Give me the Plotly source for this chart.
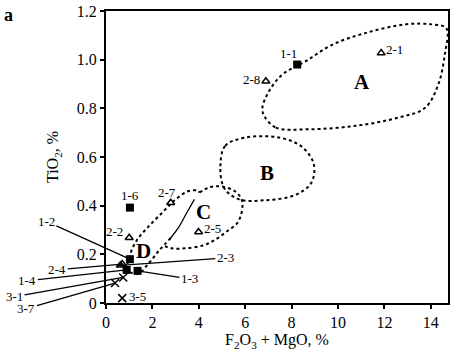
import plotly.graph_objects as go

# ---- data ----
sq_names = ["1-1", "1-2", "1-3", "1-4", "1-6"]
sq_x = [8.24, 1.03, 1.36, 0.89, 1.03]
sq_y = [0.98, 0.18, 0.132, 0.136, 0.392]

tri_names = ["2-1", "2-2", "2-3", "2-4", "2-5", "2-7", "2-8"]
tri_x = [11.86, 1.0, 0.62, 0.7, 3.99, 2.79, 6.89]
tri_y = [1.027, 0.268, 0.155, 0.16, 0.292, 0.412, 0.911]

x_names = ["3-1", "3-5", "3-7"]
x_x = [0.74, 0.70, 0.39]
x_y = [0.105, 0.02, 0.082]

# field outlines (control points)
A_x = [6.82, 7.32, 8.74, 10.75, 12.6, 13.75, 14.32, 14.6, 14.67, 14.03, 12.89, 11.17, 9.74, 8.6, 7.6, 7.03, 6.74, 6.82]
A_y = [0.769, 0.721, 0.714, 0.728, 0.762, 0.802, 0.898, 1.02, 1.129, 1.145, 1.145, 1.109, 1.061, 0.993, 0.939, 0.871, 0.802, 0.769]
B_x = [4.93, 5.14, 5.96, 7.46, 8.44, 8.96, 8.83, 8.1, 6.82, 5.74, 5.1, 4.93]
B_y = [0.565, 0.646, 0.679, 0.68, 0.642, 0.569, 0.491, 0.442, 0.422, 0.426, 0.471, 0.565]
C_x = [4.03, 4.46, 4.97, 5.57, 5.87, 5.7, 5.19, 4.67, 4.2, 3.46, 2.83, 2.45]
C_y = [0.454, 0.475, 0.479, 0.458, 0.418, 0.334, 0.293, 0.258, 0.237, 0.225, 0.225, 0.237]
D_x = [2.79, 2.31, 1.89, 1.37, 0.94, 1.03, 1.33, 1.80, 2.40, 2.96, 3.51, 3.94, 4.03]
D_y = [0.267, 0.218, 0.169, 0.120, 0.136, 0.197, 0.258, 0.311, 0.369, 0.422, 0.458, 0.462, 0.454]
CD_x = [3.81, 3.47, 3.13, 2.74]
CD_y = [0.426, 0.369, 0.311, 0.262]

field_names = ["A", "B", "C", "D"]
field_x = [11.02, 6.94, 4.2, 1.63]
field_y = [0.907, 0.536, 0.373, 0.213]

# labels with leader lines: name -> tail position (data units)
lead_names = ["1-2", "2-4", "1-4", "3-1", "3-7", "2-3", "1-3"]
lead_tx = [-2.57, -2.1, -3.39, -3.94, -3.43, 5.14, 3.6]
lead_ty = [0.336, 0.136, 0.091, 0.026, -0.023, 0.185, 0.099]

# plain labels next to points: name -> pixel shifts
plain_shift = {"1-1": (-9, 11), "2-1": (13, 4), "2-8": (-14, 2), "1-6": (0, 12),
               "2-7": (-4, 10), "2-5": (14, 3), "2-2": (-15, 6), "3-5": (15, 2)}

serif = "Liberation Serif"
fig = go.Figure()

dotted = dict(color="black", width=2, dash="3px,3px")
for fx, fy in [(A_x, A_y), (B_x, B_y), (C_x, C_y), (D_x, D_y)]:
    fig.add_trace(go.Scatter(x=fx, y=fy, mode="lines", line=dict(shape="spline", **dotted),
                             hoverinfo="skip", showlegend=False))
fig.add_trace(go.Scatter(x=CD_x, y=CD_y, mode="lines", line=dict(shape="spline", color="black", width=1.3),
                         hoverinfo="skip", showlegend=False))

fig.add_trace(go.Scatter(x=sq_x, y=sq_y, mode="markers", text=sq_names,
                         marker=dict(symbol="square", size=8, color="black"), showlegend=False))
fig.add_trace(go.Scatter(x=tri_x, y=tri_y, mode="markers", text=tri_names,
                         marker=dict(symbol="triangle-up-open", size=7, color="black", line=dict(width=1.5)),
                         showlegend=False))
fig.add_trace(go.Scatter(x=x_x, y=x_y, mode="markers", text=x_names,
                         marker=dict(symbol="x-thin-open", size=8, color="black", line=dict(width=1.5)),
                         showlegend=False))

allpts = {}
for n, a, b in zip(sq_names + tri_names + x_names, sq_x + tri_x + x_x, sq_y + tri_y + x_y):
    allpts[n] = (a, b)

anns = []
for n, tx, ty in zip(lead_names, lead_tx, lead_ty):
    px, py = allpts[n]
    anns.append(dict(x=px, y=py, ax=tx, ay=ty, xref="x", yref="y", axref="x", ayref="y",
                     text=n, showarrow=True, arrowhead=0, arrowwidth=1.3, arrowcolor="black",
                     standoff=0, font=dict(family=serif, size=13, color="black")))
for n, (sx, sy) in plain_shift.items():
    px, py = allpts[n]
    anns.append(dict(x=px, y=py, xref="x", yref="y", text=n, showarrow=False,
                     xshift=sx, yshift=sy, font=dict(family=serif, size=13, color="black")))
for n, fx, fy in zip(field_names, field_x, field_y):
    anns.append(dict(x=fx, y=fy, xref="x", yref="y", text="<b>" + n + "</b>", showarrow=False,
                     font=dict(family=serif, size=21, color="black")))
anns.append(dict(x=-0.285, y=0.985, xref="paper", yref="paper", text="<b>a</b>", showarrow=False,
                 xanchor="center", yanchor="middle", font=dict(family=serif, size=18, color="black")))

fig.update_layout(
    width=453, height=354,
    margin=dict(l=106, r=3, t=9, b=51),
    paper_bgcolor="white", plot_bgcolor="white",
    annotations=anns,
    font=dict(family=serif, size=15, color="black"),
    xaxis=dict(range=[0, 14.74], tickvals=[0, 2, 4, 6, 8, 10, 12, 14], showgrid=False, zeroline=False,
               showline=True, linecolor="black", linewidth=2, mirror=True,
               ticks="outside", ticklen=4, tickwidth=2, tickcolor="black",
               tickfont=dict(family=serif, size=16),
               title=dict(text="F<sub>2</sub>O<sub>3</sub> + MgO, %", font=dict(family=serif, size=16), standoff=2)),
    yaxis=dict(range=[0, 1.2], tickvals=[0, 0.2, 0.4, 0.6, 0.8, 1.0, 1.2],
               ticktext=["0", "0.2", "0.4", "0.6", "0.8", "1.0", "1.2"], showgrid=False, zeroline=False,
               showline=True, linecolor="black", linewidth=2, mirror=True,
               ticks="outside", ticklen=4, tickwidth=2, tickcolor="black",
               tickfont=dict(family=serif, size=16),
               title=dict(text="TiO<sub>2</sub>, %", font=dict(family=serif, size=16), standoff=14)),
)

fig.write_html("out.html", config={"displayModeBar": False},
               post_script="document.body.style.margin='0';document.body.style.padding='0';")
